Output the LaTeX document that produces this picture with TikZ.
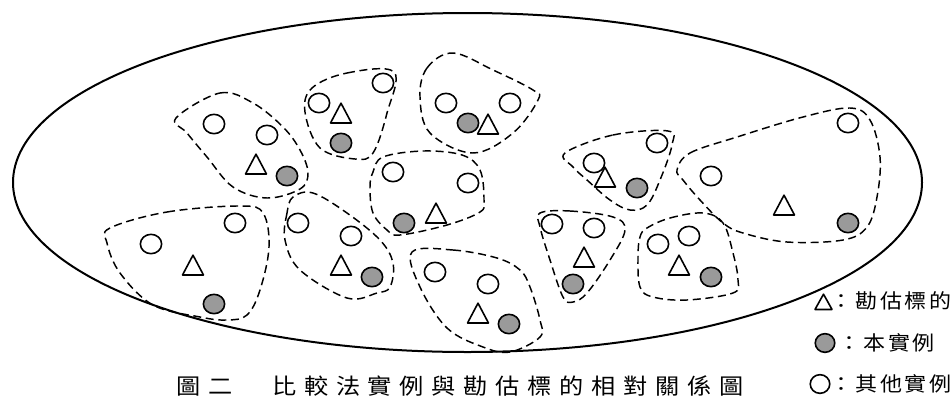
\documentclass[tikz,border=0pt]{standalone}
\usepackage{fontspec}
\usepackage{tikz}
\usetikzlibrary{shapes.geometric}
\newfontfamily\capfont[LetterSpace=32]{Noto Sans CJK TC}
\newfontfamily\keyfont[LetterSpace=13]{Noto Sans CJK TC}
\definecolor{ink}{HTML}{000000}
\definecolor{casegray}{HTML}{9A9A9A}
\tikzset{
  fig two/.style={
    x=0.75pt,
    y=-0.75pt,
    line cap=round,
    line join=round
  },
  boundary/.style={
    draw=ink,
    line width=1.5pt
  },
  groupline/.style={
    draw=ink,
    line width=1.1pt,
    line cap=butt,
    dash pattern=on 6pt off 3.5pt
  },
  othercase/.style={
    circle,
    draw=ink,
    fill=white,
    line width=1.2pt,
    minimum size=14.5pt,
    inner sep=0pt,
    xscale=1.1
  },
  subjectcase/.style={
    othercase,
    fill=casegray
  },
  targetmark/.style={
    regular polygon,
    regular polygon sides=3,
    draw=ink,
    line width=1.2pt,
    minimum size=16.5pt,
    inner sep=0pt,
    xscale=1.1,
    yscale=1.2,
    yshift=-2.1pt
  },
  captiontext/.style={
    font=\capfont\fontsize{16.5pt}{18pt}\selectfont,
    inner sep=0pt,
    anchor=west,
    xscale=1.1
  },
  keytext/.style={
    font=\keyfont\fontsize{15pt}{17pt}\selectfont,
    inner sep=0pt,
    anchor=west,
    xscale=1.1
  }
}

\begin{document}
\begin{tikzpicture}[fig two]
\useasboundingbox (0,0) rectangle (952,397);
\draw[boundary] (467.5,182.5) ellipse [x radius=454.5, y radius=169.5];

% groups of cases
\draw[groupline] plot[smooth cycle, tension=0.6] coordinates {(176,118) (220,93) (253,103) (283,127) (300,150) (308,173) (300,189) (267,198) (233,187) (207,157) (187,133)};
\draw[groupline] plot[smooth cycle, tension=0.6] coordinates {(312,88) (347,73) (394,72) (387,113) (373,153) (355,159) (320,148) (305,112)};
\draw[groupline] plot[smooth cycle, tension=0.6] coordinates {(453,53) (427,68) (420,97) (430,133) (473,153) (513,133) (538,100) (533,90) (493,70)};
\draw[groupline] plot[smooth cycle, tension=0.6] coordinates {(383,157) (423,151) (462,155) (480,170) (484,200) (480,212) (447,225) (400,235) (387,230) (373,213) (370,187) (373,172)};
\draw[groupline] plot[smooth cycle, tension=0.6] coordinates {(110,228) (167,212) (240,206) (263,213) (269,247) (260,290) (247,315) (227,320) (200,317) (153,305) (120,273) (107,243)};
\draw[groupline] plot[smooth cycle, tension=0.6] coordinates {(293,197) (287,213) (285,240) (300,270) (347,298) (377,293) (390,287) (393,263) (380,240) (347,213) (313,193)};
\draw[groupline] plot[smooth cycle, tension=0.6] coordinates {(412,252) (453,250) (497,258) (520,270) (530,287) (540,320) (540,337) (510,352) (483,347) (447,328) (420,287)};
\draw[groupline] plot[smooth cycle, tension=0.6] coordinates {(565,153) (613,135) (668,131) (672,145) (660,180) (647,205) (630,210) (610,200) (587,180) (573,167)};
\draw[groupline] plot[smooth cycle, tension=0.6] coordinates {(540,213) (570,211) (613,217) (625,230) (610,260) (587,293) (573,302) (563,297) (550,260) (540,227)};
\draw[groupline] plot[smooth cycle, tension=0.6] coordinates {(647,228) (670,218) (703,213) (723,223) (733,253) (738,280) (733,293) (687,300) (653,297) (640,287) (638,257) (640,237)};
\draw[groupline] plot[smooth cycle, tension=0.6] coordinates {(677,170) (690,153) (737,137) (803,117) (850,108) (870,120) (880,157) (877,197) (867,227) (843,240) (787,242) (743,233) (723,223) (700,200) (683,180)};

% cases
\foreach \px/\py [count=\i] in {214/124, 267/135, 319/103, 383/83, 446/103, 510/103, 393/172, 468/183, 657/143, 594/163, 711/176, 848/123, 235/223, 151/244, 298/223, 351/236, 435/272, 488/284, 552/224, 594/228, 658/244, 689/236}
  \node[othercase] (other\i) at (\px,\py) {};
\foreach \px/\py [count=\i] in {287/176, 341/143, 468/123, 637/188, 848/223, 214/304, 372/277, 404/223, 509/324, 573/284, 711/277}
  \node[subjectcase] (subject\i) at (\px,\py) {};
\foreach \px/\py [count=\i] in {256/164, 341/113, 488/124, 605/177, 784/205, 193/265, 341/265, 436/213, 478/313, 584/257, 679/265}
  \node[targetmark] (target\i) at (\px,\py) {};

% legend and caption
\node[targetmark, minimum size=13.4pt, yscale=0.95] (keytarget) at (823.5,301) {};
\node[subjectcase, minimum size=14pt, xscale=0.95] (keysubject) at (825,343) {};
\node[othercase, minimum size=14pt, xscale=0.95] (keyother) at (820,384) {};
\node[keytext] (keytargettext) at (830,301) {：勘估標的};
\node[keytext] (keysubjecttext) at (838,343) {：本實例};
\node[keytext] (keyothertext) at (830,384) {：其他實例};
\node[captiontext] (caption) at (176,386) {圖二　比較法實例與勘估標的相對關係圖};
\end{tikzpicture}
\end{document}
